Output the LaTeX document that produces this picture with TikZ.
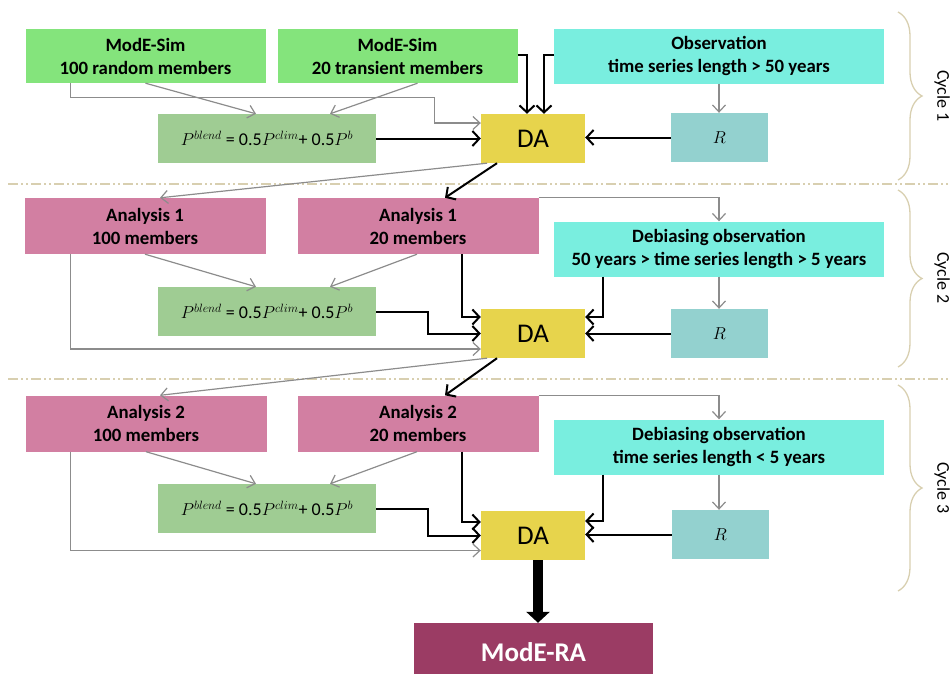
\documentclass[tikz,border=0pt]{standalone}
\usepackage{fontspec}
\setmainfont{Carlito}
\usepackage{tikz}
\usetikzlibrary{arrows.meta,decorations.pathreplacing}
\definecolor{Sim_Green}{HTML}{84E47C}
\definecolor{Obs_Cyan}{HTML}{79EEDF}
\definecolor{Blend_Green}{HTML}{9FCC93}
\definecolor{DA_Yellow}{HTML}{E7D44C}
\definecolor{R_Teal}{HTML}{93D1CF}
\definecolor{Ana_Pink}{HTML}{D27FA2}
\definecolor{RA_Plum}{HTML}{9B3C64}
\definecolor{Arrow_Gray}{HTML}{8C8C8C}
\definecolor{Cycle_Sand}{HTML}{D8CFB0}

\tikzset{
  box/.style={inner sep=0pt, align=center, font=\fontsize{18.8}{23}\selectfont\bfseries},
  simbox/.style={box, fill=Sim_Green, minimum width=240pt, minimum height=54pt},
  obsbox/.style={box, fill=Obs_Cyan, minimum width=330pt, minimum height=55pt},
  anabox/.style={box, fill=Ana_Pink, minimum width=241pt, minimum height=56pt},
  blendbox/.style={inner sep=0pt, fill=Blend_Green, minimum width=218pt, minimum height=49pt, font=\fontsize{18}{20}\selectfont},
  dabox/.style={inner sep=0pt, fill=DA_Yellow, minimum width=104pt, minimum height=49pt, font=\fontsize{27}{30}\selectfont},
  rbox/.style={inner sep=0pt, fill=R_Teal, minimum width=97pt, minimum height=49pt, font=\fontsize{18}{20}\selectfont},
  grayarrow/.style={->, Arrow_Gray, line width=1.2pt},
  blackarrow/.style={-{Straight Barb[length=7pt,width=15pt]}, black, line width=2pt},
  cyclebrace/.style={Cycle_Sand, line width=1.3pt, decorate, decoration={brace, amplitude=24pt}},
  cyclesep/.style={Cycle_Sand, line width=1.5pt, dash pattern=on 10pt off 3pt on 2pt off 3pt on 2pt off 3pt},
  cyclelabel/.style={rotate=-90, anchor=north, inner sep=1pt, font=\fontsize{18}{20}\selectfont}
}

\begin{document}
\begin{tikzpicture}[x=1pt, y=-1pt, >={Straight Barb[length=7pt,width=13pt]}]
    \useasboundingbox (0,0) rectangle (951,673);

    % Cycle separators and braces
    \draw[cyclesep] (8,184) -- (951,184);
    \draw[cyclesep] (8,379) -- (951,379);
    \draw[cyclebrace] (898,12) -- (898,180);
    \draw[cyclebrace] (898,190) -- (898,367);
    \draw[cyclebrace] (898,385) -- (898,591);
    \node[cyclelabel] (lab1) at (951,96) {Cycle 1};
    \node[cyclelabel] (lab2) at (951,278) {Cycle 2};
    \node[cyclelabel] (lab3) at (951,488) {Cycle 3};

    % Cycle 1
    \node[simbox] (sim1) at (145.5,56) {ModE-Sim\\100 random members};
    \node[simbox] (sim2) at (397.5,56) {ModE-Sim\\20 transient members};
    \node[obsbox] (obs0) at (719,56) {Observation\\time series length > 50 years};
    \node[blendbox] (blend1) at (267,138.5) {$P^{blend}$ = 0.5$P^{clim}$+ 0.5$P^{b}$};
    \node[dabox] (da1) at (533,138.5) {DA};
    \node[rbox] (r1) at (719.5,137.5) {$R$};

    \draw[grayarrow] ([xshift=45]sim1.south west) -- ++(0,14) -| ([xshift=-46,yshift=15.5]da1.west) -- ([yshift=15.5]da1.west);
    \draw[grayarrow] (sim1.south) -- ([xshift=-11]blend1.north);
    \draw[grayarrow] ([xshift=20]sim2.south) -- ([xshift=63]blend1.north);
    \draw[blackarrow] (blend1.east) -- (da1.west);
    \draw[blackarrow] ([yshift=1]sim2.east) -| ([xshift=-6]da1.north);
    \draw[blackarrow] ([yshift=1]obs0.west) -| ([xshift=11]da1.north);
    \draw[grayarrow] (obs0.south) -- (obs0.south |- r1.north);
    \draw[blackarrow] (r1.west) -- (r1.west -| da1.east);

    % Cycle 2
    \node[anabox] (ana1a) at (145,226) {Analysis 1\\100 members};
    \node[anabox] (ana1b) at (418,226) {Analysis 1\\20 members};
    \node[obsbox] (obs1) at (719,249) {Debiasing observation\\50 years > time series length > 5 years};
    \node[blendbox] (blend2) at (267,311.5) {$P^{blend}$ = 0.5$P^{clim}$+ 0.5$P^{b}$};
    \node[dabox] (da2) at (533,333.5) {DA};
    \node[rbox] (r2) at (719.5,333.5) {$R$};

    \draw[blackarrow] ([xshift=-36]da1.south) -- ([xshift=27]ana1b.north);
    \draw[grayarrow] ([xshift=-46]da1.south) -- ([xshift=15]ana1a.north);
    \draw[grayarrow] ([xshift=46]ana1a.south west) |- ([yshift=-15.5]da2.west);
    \draw[grayarrow] (ana1a.south) -- ([xshift=-11]blend2.north);
    \draw[grayarrow] ([xshift=-1]ana1b.south) -- ([xshift=63]blend2.north);
    \draw[blackarrow] (blend2.east) -- ++(52,0) |- (da2.west);
    \draw[blackarrow] ([xshift=44]ana1b.south) |- ([yshift=16.5]da2.west);
    \draw[grayarrow] (ana1b.north east) -| (obs1.north);
    \draw[blackarrow] ([xshift=-116]obs1.south) |- ([yshift=16.5]da2.east);
    \draw[grayarrow] (obs1.south) -- (obs1.south |- r2.north);
    \draw[blackarrow] (r2.west) -- (da2.east);

    % Cycle 3
    \node[anabox] (ana2a) at (146,423.5) {Analysis 2\\100 members};
    \node[anabox] (ana2b) at (418,423.5) {Analysis 2\\20 members};
    \node[obsbox] (obs2) at (719,447) {Debiasing observation\\time series length < 5 years};
    \node[blendbox] (blend3) at (267,508.5) {$P^{blend}$ = 0.5$P^{clim}$+ 0.5$P^{b}$};
    \node[dabox] (da3) at (533,535.5) {DA};
    \node[rbox] (r3) at (720.5,534.5) {$R$};

    \draw[blackarrow] ([xshift=-36]da2.south) -- ([xshift=27]ana2b.north);
    \draw[grayarrow] ([xshift=-46]da2.south) -- ([xshift=14]ana2a.north);
    \draw[grayarrow] ([xshift=45]ana2a.south west) |- ([yshift=-15]da3.west);
    \draw[grayarrow] (ana2a.south) -- ([xshift=-11]blend3.north);
    \draw[grayarrow] ([xshift=-1]ana2b.south) -- ([xshift=63]blend3.north);
    \draw[blackarrow] (blend3.east) -- ++(52,0) |- (da3.west);
    \draw[blackarrow] ([xshift=44]ana2b.south) |- ([yshift=13.5]da3.west);
    \draw[grayarrow] (ana2b.north east) -| (obs2.north);
    \draw[blackarrow] ([xshift=-116]obs2.south) |- ([yshift=14.5]da3.east);
    \draw[grayarrow] (obs2.south) -- (obs2.south |- r3.north);
    \draw[blackarrow] (r3.west) -- (r3.west -| da3.east);

    % Final reanalysis
    \node[inner sep=0pt, fill=RA_Plum, text=white, minimum width=239pt, minimum height=58pt,
          font=\fontsize{27}{30}\selectfont\bfseries] (ra) at (533.5,652) {ModE-RA};
    \draw[-{Triangle[length=11pt,width=23pt]}, line width=10pt] ([xshift=5]da3.south) -- ([xshift=4.5]ra.north);

\end{tikzpicture}
\end{document}
